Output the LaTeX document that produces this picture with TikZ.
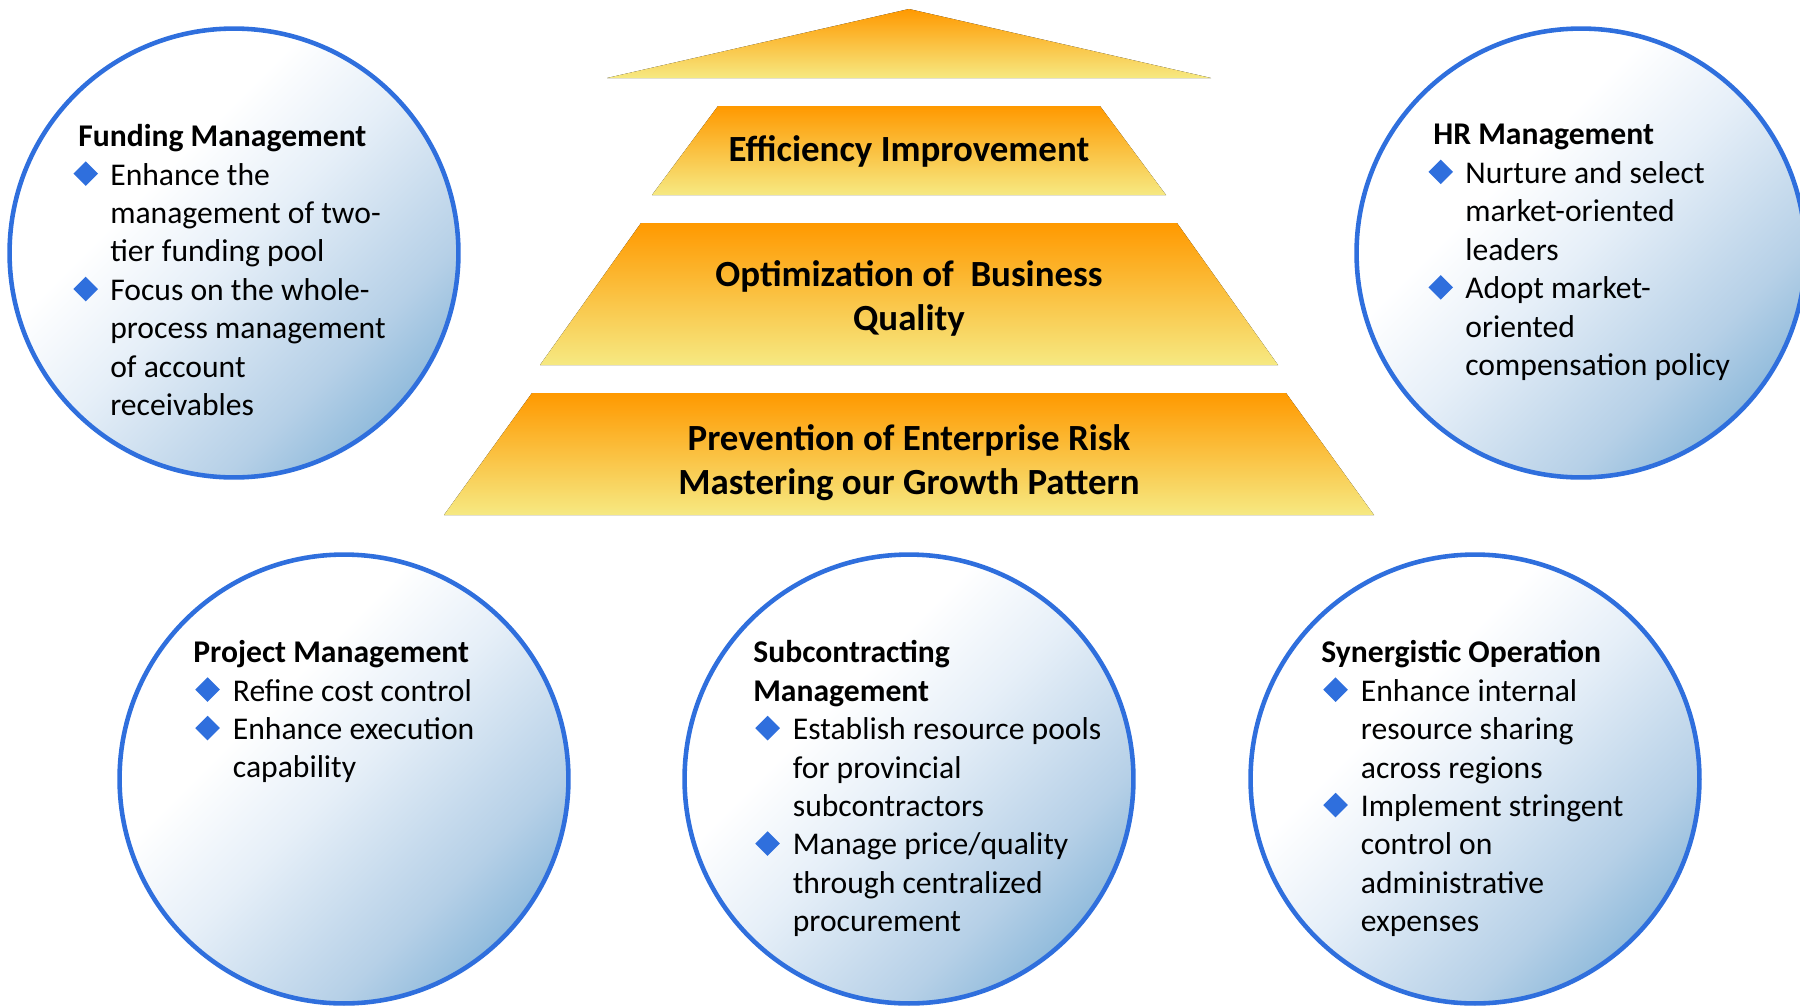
\documentclass[tikz,border=0pt]{standalone}
\usepackage{fontspec}
\setmainfont{Carlito}
\usetikzlibrary{shadows}

\definecolor{ringblue}{RGB}{47,111,221}
\definecolor{ringdeep}{RGB}{146,188,220}
\definecolor{ringsoft}{RGB}{182,208,231}
\definecolor{ringpale}{RGB}{230,239,248}
\definecolor{pyrorange}{RGB}{255,153,0}
\definecolor{pyrgold}{RGB}{255,204,0}
\definecolor{pyrpale}{RGB}{246,233,130}

%% circle fill, white towards the upper left
\pgfdeclareverticalshading{ringshade}{100bp}{color(0bp)=(ringdeep); color(25bp)=(ringdeep);
  color(33bp)=(ringsoft); color(50bp)=(ringpale); color(62bp)=(white); color(100bp)=(white)}

%% bullet diamond and hanging indent
\newcommand\pdia{\tikz[baseline=0pt]\fill[ringblue] (0pt,6.5pt) -- (7pt,13.5pt) -- (14pt,6.5pt) -- (7pt,-0.5pt) -- cycle;}
\newcommand\pitem{\makebox[\bulind][l]{\hspace*{\bulsh}\pdia}}
\newcommand\pcont{\hspace*{\bulind}}

\begin{document}
\begin{tikzpicture}
[x=0.02cm,y=-0.02cm,
  ringdecorate/.style={shape=circle,draw=ringblue,line width=2.6pt,
    minimum size=89.8mm,inner sep=0pt,shading=ringshade,shading angle=45,
    circular drop shadow={shadow xshift=0.6pt,shadow yshift=-1.8pt,shadow scale=1.0,
      opacity=0.35,fill=brown!25!gray!50}},
  layerdecorate/.style={top color=pyrorange,middle color=pyrgold,bottom color=pyrpale},
  layertext/.style={align=center,inner sep=0pt,font=\bfseries\fontsize{21}{25.4}\selectfont},
  notedecorate/.style={anchor=north west,inner sep=0pt,align=left,
    font=\fontsize{18}{21.9}\selectfont},
  upnote/.style={notedecorate,/utils/exec={\def\bulind{18.2pt}\def\bulsh{-2.8pt}}},
  lownote/.style={notedecorate,/utils/exec={\def\bulind{22.5pt}\def\bulsh{1.1pt}}}]
\useasboundingbox (0,0) rectangle (1800,1005);

%% pyramid: roof and three layers
\fill[layerdecorate] (909,9) -- (1211,78) -- (607,78) -- cycle;
\foreach \ya/\yb/\wa/\wb in {106/195/191/257, 223/365/268/369, 393/515/377/465}
{
  \fill[layerdecorate] (909-\wa,\ya) -- (909+\wa,\ya) -- (909+\wb,\yb) -- (909-\wb,\yb) -- cycle;
}
\node[layertext] (efficiency) at (909,151) {Efficiency Improvement};
\node[layertext] (quality) at (909,298.5) {Optimization of~ Business\\Quality};
\node[layertext] (risk) at (909,462.5) {Prevention of Enterprise Risk\\Mastering our Growth Pattern};

%% circles
\foreach \nodename/\x/\y in {fund/234/253, hr/1581/253, proj/344/779, subc/909/779, syn/1475/779}
{
  \node[ringdecorate] (\nodename) at (\x,\y) {};
}

%% texts in the circles
\node[upnote] (fundtxt) at (78,124) {\textbf{Funding Management}\\
  \pitem Enhance the\\ \pcont management of two-\\ \pcont tier funding pool\\
  \pitem Focus on the whole-\\ \pcont process management\\ \pcont of account\\ \pcont receivables};
\node[upnote] (hrtxt) at (1433,124) {\textbf{HR Management}\\
  \pitem Nurture and select\\ \pcont market-oriented\\ \pcont leaders\\
  \pitem Adopt market-\\ \pcont oriented\\ \pcont compensation policy};
\node[lownote] (projtxt) at (193,640) {\textbf{Project Management}\\
  \pitem Refine cost control\\
  \pitem Enhance execution\\ \pcont capability};
\node[lownote] (subctxt) at (753,640) {\textbf{Subcontracting}\\ \textbf{Management}\\
  \pitem Establish resource pools\\ \pcont for provincial\\ \pcont subcontractors\\
  \pitem Manage price/quality\\ \pcont through centralized\\ \pcont procurement};
\node[lownote] (syntxt) at (1321,640) {\textbf{Synergistic Operation}\\
  \pitem Enhance internal\\ \pcont resource sharing\\ \pcont across regions\\
  \pitem Implement stringent\\ \pcont control on\\ \pcont administrative\\ \pcont expenses};
\end{tikzpicture}
\end{document}
